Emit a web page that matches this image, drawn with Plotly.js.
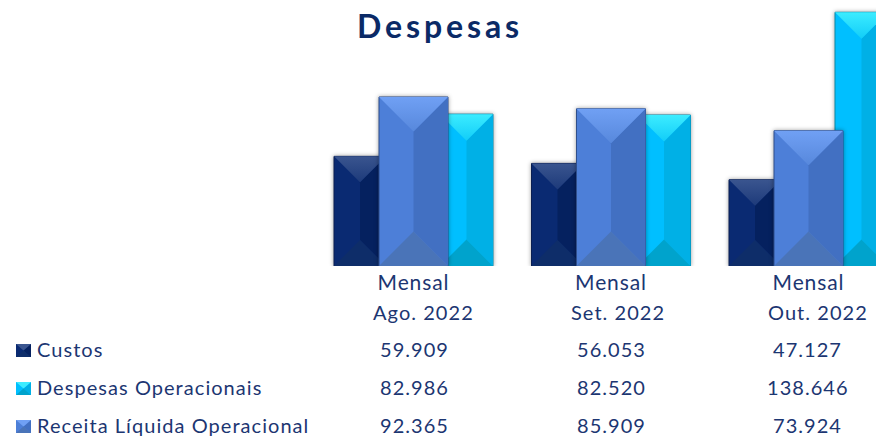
<!DOCTYPE html>
<html><head><meta charset="utf-8">
<script src="https://cdn.plot.ly/plotly-3.0.1.min.js"></script>
<style>
html,body{margin:0;padding:0;background:#fff}
#c{width:876px;height:438px}
.gtitle{letter-spacing:3.9px}
.annotation-text{letter-spacing:1.05px}
.xtick text{letter-spacing:.9px}
.trace.bars .point path{filter:drop-shadow(0 0 2px rgba(0,0,0,.38))}
</style></head><body><div id="c"></div>
<script>
const periods = ['Ago. 2022','Set. 2022','Out. 2022'];
const tickLine = ['Mensal','Mensal','Mensal'];
const custos = [59909,56053,47127];
const despesas = [82986,82520,138646];
const receita = [92365,85909,73924];
const labelCustos = ['59.909','56.053','47.127'];
const labelDespesas = ['82.986','82.520','138.646'];
const labelReceita = ['92.365','85.909','73.924'];
const W=876,H=438,base=266,cx0=413.5,step=197.5,unit=0.00183;
const pxX=p=>p/step, pxY=p=>p/unit;
const navy='#1c3672';
const style={
 custos:{off:-79.5,w:52,main:'#0a2a72',right:'#05215f',top:'#3a558f',topLow:'#1d3a7a',bot:'#0e2d69',line:'#0b1f52'},
 despesas:{off:26.5,w:53,main:'#00bfff',right:'#00b0e6',top:'#3cecff',topLow:'#12cdf8',bot:'#00a3cc',line:'#0a8aa8'},
 receita:{off:-34.5,w:69,main:'#4d7fd8',right:'#4270c2',top:'#70a0f4',topLow:'#5788dc',bot:'#4a74b8',line:'#2f4f8c'}
};
function poly(v,i,s,kind){
 const l=i+pxX(s.off), r=l+pxX(s.w), m=(l+r)/2, d=pxY(s.w/2);
 if(kind==='top') return {x:[l,r,m,l],y:[v,v,v-d,v]};
 if(kind==='bot') return {x:[l,r,m,l],y:[0,0,d,0]};
 return {x:[m,r,r,m,m],y:[v-d,v,0,d,v-d]};
}
function group(name,vals,s,z){
 const out=[{type:'bar',name,x:[0,1,2],y:vals,width:pxX(s.w),offset:pxX(s.off),zorder:z,
   marker:{color:s.main,line:{color:s.line,width:1}},showlegend:false}];
 vals.forEach((v,i)=>{
  const mk=(k,c,grad)=>{const p=poly(v,i,s,k);
   const t={type:'scatter',mode:'lines',x:p.x,y:p.y,fill:'toself',line:{width:0},
    hoverinfo:'skip',showlegend:false,zorder:z};
   if(grad) t.fillgradient=grad; else t.fillcolor=c;
   out.push(t);};
  mk('right',s.right);
  mk('top',null,{type:'vertical',colorscale:[[0,s.topLow],[1,s.top]]});
  mk('bot',s.bot);
 });
 return out;
}
const data=[...group('Custos',custos,style.custos,0),
 ...group('Despesas Operacionais',despesas,style.despesas,0),
 ...group('Receita Líquida Operacional',receita,style.receita,1)];
const ann=[];
const font={family:'Lato, sans-serif',size:20,color:navy};
const py=p=>1-p/H, ppx=p=>p/W;
periods.forEach((t,i)=>ann.push({xref:'x',yref:'paper',x:i,y:py(311.5),text:t,showarrow:false,font,xanchor:'center',yanchor:'middle',xshift:[10,7,9][i]}));
[[labelCustos,349],[labelDespesas,387],[labelReceita,425]].forEach(([a,y])=>a.forEach((t,i)=>ann.push({xref:'x',yref:'paper',x:i,y:py(y),text:t,showarrow:false,font,xanchor:'center',yanchor:'middle',xshift:[1,0,-1][i]})));
[['Custos',349],['Despesas Operacionais',387],['Receita Líquida Operacional',425]].forEach(([t,y])=>ann.push({xref:'paper',yref:'paper',x:ppx(37),y:py(y),text:t,showarrow:false,font,xanchor:'left',yanchor:'middle',xshift:-2}));
const shapes=[];
function key(x,y,s){
 const w=15,h=13,P=(a,b)=>`${ppx(x+a)} ${py(y+b)}`;
 const path=pts=>'M'+pts.map(p=>P(p[0],p[1])).join('L')+'Z';
 const add=(pts,c)=>shapes.push({type:'path',xref:'paper',yref:'paper',path:path(pts),fillcolor:c,line:{width:0}});
 add([[0,0],[w,0],[w,h],[0,h]],s.main);
 add([[w/2,h/2],[w,0],[w,h]],s.right);
 add([[0,0],[w,0],[w/2,h/2]],s.top);
 add([[0,h],[w,h],[w/2,h/2]],s.bot);
}
key(16,344,style.custos);key(16,382,style.despesas);key(16,420,style.receita);
Plotly.newPlot('c',data,{
 width:W,height:H,margin:{l:0,r:0,t:0,b:0},paper_bgcolor:'#fff',plot_bgcolor:'rgba(0,0,0,0)',
 barmode:'overlay',showlegend:false,
 title:{text:'<b>Despesas</b>',x:440/W,xanchor:'center',y:1-27/H,yanchor:'middle',font:{family:'Lato, sans-serif',size:32,color:'#0b2a66'}},
 xaxis:{range:[-cx0/step,(W-cx0)/step],tickmode:'array',tickvals:[0,1,2],ticktext:tickLine,showgrid:false,zeroline:false,showline:false,ticks:'',
   tickfont:{family:font.family,size:21,color:navy},ticklabelstandoff:2},
 yaxis:{domain:[(H-base)/H,1],range:[0,base/unit],visible:false,showgrid:false,zeroline:false},
 annotations:ann,shapes
},{displayModeBar:false,staticPlot:true});
</script></body></html>
